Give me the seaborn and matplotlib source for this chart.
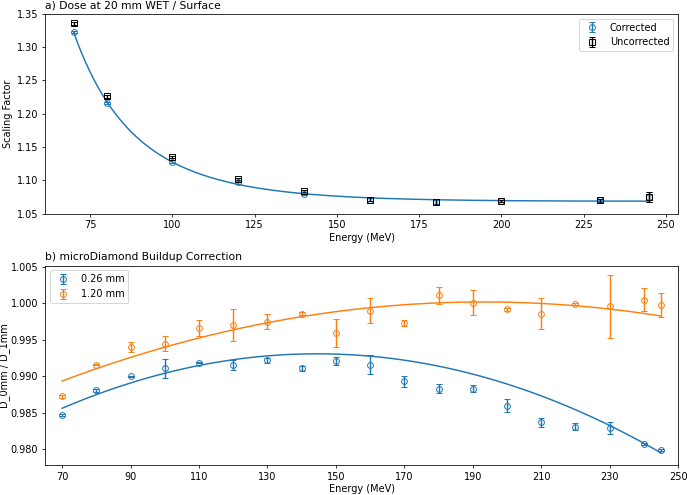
import numpy as np
import seaborn as sns
import matplotlib.pyplot as plt

# panel a: dose at 20 mm WET / surface
energy_a = [70, 80, 100, 120, 140, 160, 180, 200, 230, 245]
corrected = [1.323, 1.216, 1.128, 1.097, 1.080, 1.071, 1.067, 1.069, 1.070, 1.075]
corrected_err = [0.002, 0.002, 0.002, 0.002, 0.002, 0.002, 0.004, 0.002, 0.002, 0.007]
uncorrected = [1.336, 1.226, 1.135, 1.102, 1.084, 1.071, 1.068, 1.069, 1.070, 1.075]
uncorrected_err = [0.002, 0.002, 0.002, 0.002, 0.002, 0.002, 0.004, 0.002, 0.002, 0.007]

# panel b: microDiamond buildup correction
energy_b = [70, 80, 90, 100, 110, 120, 130, 140, 150, 160,
            170, 180, 190, 200, 210, 220, 230, 240, 245]
thin = [0.9847, 0.9881, 0.9900, 0.9911, 0.9919, 0.9916, 0.9922, 0.9911, 0.9921, 0.9916,
        0.9893, 0.9883, 0.9883, 0.9860, 0.9837, 0.9831, 0.9829, 0.9807, 0.9799]
thin_err = [0.0001, 0.0002, 0.0001, 0.0013, 0.0001, 0.0007, 0.0003, 0.0003, 0.0005, 0.0013,
            0.0007, 0.0006, 0.0005, 0.0009, 0.0006, 0.0005, 0.0008, 0.0001, 0.0001]
thick = [0.9873, 0.9916, 0.9940, 0.9945, 0.9966, 0.9970, 0.9975, 0.9986, 0.9959, 0.9990,
         0.9973, 1.0011, 1.0001, 0.9992, 0.9986, 0.9999, 0.9996, 1.0005, 0.9998]
thick_err = [0.0002, 0.0001, 0.0007, 0.0010, 0.0011, 0.0022, 0.0010, 0.0002, 0.0019, 0.0017,
             0.0004, 0.0012, 0.0017, 0.0002, 0.0021, 0.0001, 0.0043, 0.0016, 0.0016]

blue, orange = sns.color_palette("tab10")[:2]

fig, (ax1, ax2) = plt.subplots(2, 1, figsize=(687 / 70, 495 / 70), dpi=70)
fig.subplots_adjust(left=0.0655, right=0.987, top=0.972, bottom=0.06, hspace=0.26)

# weighted cubic fit in 1/E to the corrected data
inv_e = 1 / np.array(energy_a, dtype=float)
p_a = np.polyfit(inv_e, corrected, 3, w=1 / np.array(corrected_err))
xs = np.linspace(70, 245, 300)
sns.lineplot(x=xs, y=np.polyval(p_a, 1 / xs), ax=ax1, color=blue, lw=1.5)

ax1.errorbar(energy_a, corrected, yerr=corrected_err, fmt="o", mfc="none",
             color=blue, capsize=3, ms=6, label="Corrected")
ax1.errorbar(energy_a, uncorrected, yerr=uncorrected_err, fmt="s", mfc="none",
             color="black", capsize=3, ms=6, label="Uncorrected")
ax1.set_ylim(1.05, 1.35)
ax1.set_title("a) Dose at 20 mm WET / Surface", loc="left", fontsize=11)
ax1.set_xlabel("Energy (MeV)", labelpad=3)
ax1.set_ylabel("Scaling Factor")
ax1.legend(loc="upper right")

# weighted quadratic fits
for vals, errs, col, lab in [(thin, thin_err, blue, "0.26 mm"),
                             (thick, thick_err, orange, "1.20 mm")]:
    p = np.polyfit(energy_b, vals, 2, w=1 / np.array(errs))
    sns.lineplot(x=xs, y=np.polyval(p, xs), ax=ax2, color=col, lw=1.5)
    ax2.errorbar(energy_b, vals, yerr=errs, fmt="o", mfc="none", color=col,
                 capsize=3, ms=6, label=lab)

ax2.set_xlim(65, 250)
ax2.set_ylim(0.9778, 1.0052)
ax2.set_xticks(range(70, 251, 20))
ax2.set_yticks(np.arange(0.980, 1.0051, 0.005))
ax2.set_title("b) microDiamond Buildup Correction", loc="left", fontsize=11)
ax2.set_xlabel("Energy (MeV)", labelpad=2)
ax2.set_ylabel("D_0mm / D_1mm", labelpad=1)
ax2.legend(loc="upper left")

plt.savefig("out.png", dpi=70)
